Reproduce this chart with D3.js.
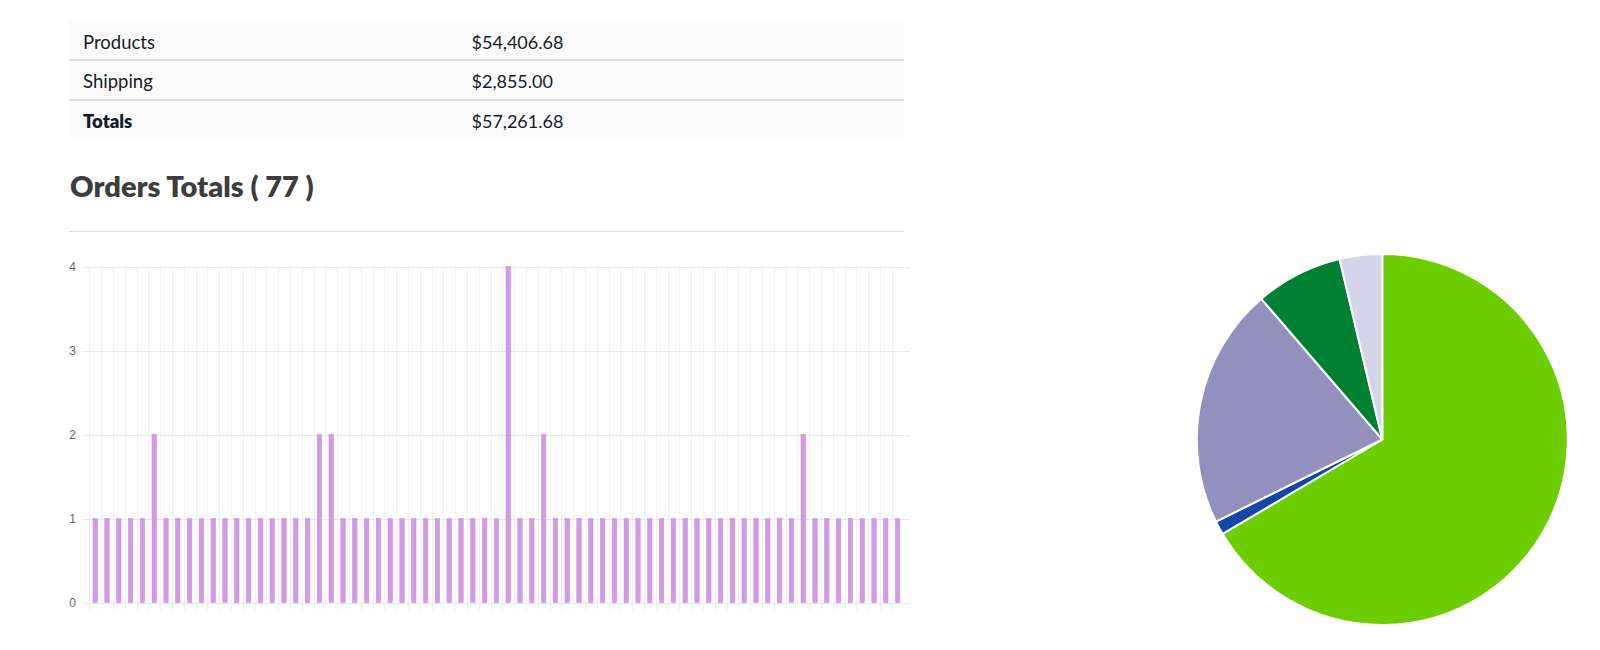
<!DOCTYPE html>
<html>
<head>
<meta charset="utf-8">
<script src="https://cdn.jsdelivr.net/npm/d3@7"></script>
<style>
  html, body { margin: 0; padding: 0; background: #ffffff; }
  svg { display: block; }
</style>
</head>
<body>
<svg id="chart" width="1600" height="650"></svg>
<script>
// ---------- DATA ----------
const tableLabels = ["Products", "Shipping", "Totals"];
const tableValues = ["$54,406.68", "$2,855.00", "$57,261.68"];
const titleText = "Orders Totals ( 77 )";

const barCategories = [1,2,3,4,5,6,7,8,9,10,11,12,13,14,15,16,17,18,19,20,21,22,23,
  24,25,26,27,28,29,30,31,32,33,34,35,36,37,38,39,40,41,42,43,44,45,46,
  47,48,49,50,51,52,53,54,55,56,57,58,59,60,61,62,63,64,65,66,67,68,69];
const barValues = [1,1,1,1,1,2,1,1,1,1,1,1,1,1,1,1,1,1,1,2,2,1,1,
  1,1,1,1,1,1,1,1,1,1,1,1,4,1,1,2,1,1,1,1,1,1,1,1,
  1,1,1,1,1,1,1,1,1,1,1,1,1,2,1,1,1,1,1,1,1,1];
const yTicks = [0, 1, 2, 3, 4];

const pieLabels = ["A", "B", "C", "D", "E"];
const pieValues = [66.5, 1.2, 21.0, 7.6, 3.7];
const pieColors = ["#6ccd00", "#1446a6", "#9291bd", "#008033", "#d5d4e8"];

// ---------- DRAW ----------
const svg = d3.select("#chart");

// Table
const tbl = { x: 69, y: 20, w: 835, rowH: [39.5, 40, 38.5] };
const rowTops = [tbl.y, tbl.y + tbl.rowH[0], tbl.y + tbl.rowH[0] + tbl.rowH[1]];
const tableH = d3.sum(tbl.rowH);
svg.append("rect").attr("x", tbl.x).attr("y", tbl.y).attr("width", tbl.w).attr("height", tableH)
  .attr("fill", "#fbfbfb");
const rows = svg.append("g").selectAll("g").data(tableLabels).join("g");
rows.filter((d, i) => i > 0).append("line")
  .attr("x1", tbl.x).attr("x2", tbl.x + tbl.w)
  .attr("y1", (d, i) => rowTops[i + 1] + 0.5).attr("y2", (d, i) => rowTops[i + 1] + 0.5)
  .attr("stroke", "#c2c2c2").attr("stroke-width", 1);
rows.append("text")
  .attr("x", 83).attr("y", (d, i) => rowTops[i] + 28.5)
  .attr("font-family", "Lato, sans-serif").attr("font-size", 18.5)
  .attr("font-weight", (d, i) => i === 2 ? 800 : 400)
  .attr("fill", "#161b29")
  .text(d => d);
rows.append("text")
  .attr("x", 471.5).attr("y", (d, i) => rowTops[i] + 28.5)
  .attr("font-family", "Lato, sans-serif").attr("font-size", 18)
  .attr("fill", "#161b29")
  .text((d, i) => tableValues[i]);

// Title
svg.append("text").attr("x", 70).attr("y", 197)
  .attr("font-family", "Lato, sans-serif").attr("font-size", 29).attr("font-weight", 800)
  .attr("fill", "#3d3d3d").text(titleText);
svg.append("line").attr("x1", 69).attr("x2", 904).attr("y1", 231.5).attr("y2", 231.5)
  .attr("stroke", "#dddddd").attr("stroke-width", 1);

// Bar chart
const x = d3.scaleBand().domain(barCategories).range([89.3, 903.5]).paddingInner(0).paddingOuter(0);
const y = d3.scaleLinear().domain([0, 4]).range([602.5, 266.5]);
const gChart = svg.append("g");

// vertical grid lines (band left edges)
gChart.append("g").selectAll("line").data(barCategories).join("line")
  .attr("x1", d => Math.round(x(d)) + 0.5).attr("x2", d => Math.round(x(d)) + 0.5)
  .attr("y1", y(4)).attr("y2", y(0) + 8)
  .attr("stroke", "#f0f0f0").attr("stroke-width", 1);

// horizontal grid lines + y axis
const yAxis = d3.axisLeft(y).tickValues(yTicks).tickFormat(d3.format("d"))
  .tickSize(-(910 - 83)).tickPadding(7);
const gy = gChart.append("g").attr("transform", "translate(910,0)").call(yAxis);
gy.select(".domain").remove();
gy.selectAll(".tick line").attr("stroke", "#e8e8e8");
gy.selectAll(".tick line").attr("x1", -(910 - 83)).attr("x2", 0);
gy.selectAll(".tick text").attr("x", -(910 - 76)).attr("text-anchor", "end")
  .attr("font-family", "'Liberation Sans', Arial, sans-serif").attr("font-size", 12)
  .attr("fill", "#666666");
gy.selectAll(".tick").each(function(d) {
  d3.select(this).select("line").attr("y1", 0.5).attr("y2", 0.5);
});

// bars
const barW = x.bandwidth() * 0.37;
gChart.append("g").selectAll("rect").data(barValues).join("rect")
  .attr("x", (d, i) => x(barCategories[i]) + (x.bandwidth() - barW) / 2)
  .attr("y", d => y(d))
  .attr("width", barW)
  .attr("height", d => y(0) - y(d))
  .attr("fill", "#d49ae8")
  .attr("stroke", "#cc90e2").attr("stroke-width", 0.6);

// Pie chart
const pie = d3.pie().sort(null).value(d => d)(pieValues);
const arc = d3.arc().innerRadius(0).outerRadius(185.5);
svg.append("g").attr("transform", "translate(1382.3,439.5)")
  .selectAll("path").data(pie).join("path")
  .attr("d", arc)
  .attr("fill", (d, i) => pieColors[i])
  .attr("stroke", "#ffffff").attr("stroke-width", 2)
  .attr("stroke-linejoin", "round");
</script>
</body>
</html>
